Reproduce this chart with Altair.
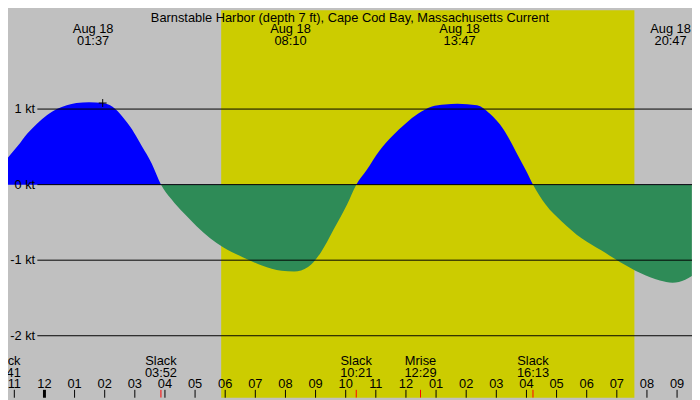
import altair as alt
import pandas as pd

# ---- data ----
title = "Barnstable Harbor (depth 7 ft), Cape Cod Bay, Massachusetts Current"

# hours relative to midnight Aug 18 (negative = Aug 17)
hours = [-1.21, -0.89, -0.56, -0.24, 0.09, 0.41, 0.74, 1.06, 1.48, 1.94,
         2.26, 2.59, 2.91, 3.23, 3.56, 3.87, 4.21, 4.63, 5.05, 5.50,
         5.93, 6.58, 7.22, 7.87, 8.29, 8.75, 9.17, 9.59, 10.05, 10.35,
         10.69, 11.12, 11.54, 11.99, 12.41, 12.84, 13.29, 13.71, 14.36, 14.78,
         15.24, 15.66, 15.98, 16.22, 16.63, 17.18, 17.83, 18.48, 19.13, 19.78,
         20.43, 20.85, 21.27, 21.49]
knots = [0.36, 0.51, 0.68, 0.81, 0.92, 1.00, 1.05, 1.08, 1.09, 1.08,
         1.03, 0.90, 0.73, 0.51, 0.28, 0.00, -0.19, -0.38, -0.55, -0.71,
         -0.83, -0.96, -1.07, -1.14, -1.15, -1.09, -0.90, -0.60, -0.26, 0.00,
         0.19, 0.45, 0.64, 0.81, 0.94, 1.03, 1.06, 1.07, 1.05, 0.94,
         0.73, 0.43, 0.19, 0.00, -0.26, -0.49, -0.71, -0.87, -1.03, -1.17,
         -1.27, -1.30, -1.26, -1.21]

top_dates = ["Aug 18", "Aug 18", "Aug 18", "Aug 18"]
top_times = ["01:37", "08:10", "13:47", "20:47"]

event_names = ["Slack", "Slack", "Slack", "Mrise", "Slack"]
event_times = ["22:41", "03:52", "10:21", "12:29", "16:13"]
event_day = [-1, 0, 0, 0, 0]

sunrise = "05:52"
sunset = "19:35"

transit_time = "01:56"
transit_value = 1.08

levels = [1, 0, -1, -2]
level_labels = ["1 kt", "0 kt", "-1 kt", "-2 kt"]

tick_hours = list(range(-1, 22))
tick_labels = ["11", "12", "01", "02", "03", "04", "05", "06", "07", "08", "09",
               "10", "11", "12", "01", "02", "03", "04", "05", "06", "07", "08", "09"]


def to_h(t, day=0):
    hh, mm = t.split(":")
    return int(hh) + int(mm) / 60 + 24 * day


cur = pd.DataFrame({"h": hours, "v": knots})
top = pd.DataFrame({"h": [to_h(t) for t in top_times], "d": top_dates, "t": top_times})
ev = pd.DataFrame({"h": [to_h(t, d) for t, d in zip(event_times, event_day)],
                   "n": event_names, "t": event_times})
day = pd.DataFrame({"a": [to_h(sunrise)], "b": [to_h(sunset)]})
lv = pd.DataFrame({"lv": levels, "lab": level_labels})
ticks = pd.DataFrame({"h": tick_hours, "lab": tick_labels})
plus = pd.DataFrame({"h": [to_h(transit_time)], "v": [transit_value]})
ttl = pd.DataFrame({"t": [title]})

W, H = 692, 392
FONT = "Liberation Sans"
FS = 13
BLUE = "#0000ff"
GREEN = "#2e8b57"

xs = alt.Scale(domain=[-1.2099, 21.4955], nice=False, zero=False)
ys = alt.Scale(domain=[-2.8205, 2.3077], nice=False, zero=False)


def X(f):
    return alt.X(f, type="quantitative", scale=xs, axis=None)


def Y(f):
    return alt.Y(f, type="quantitative", scale=ys, axis=None)


# zero line position inside the area's bounding box (top = max, bottom = min)
vmax, vmin = max(knots), min(knots)
zero_off = vmax / (vmax - vmin)
fill = alt.Gradient(
    gradient="linear", x1=0, x2=0, y1=0, y2=1,
    stops=[alt.GradientStop(color=BLUE, offset=0),
           alt.GradientStop(color=BLUE, offset=zero_off),
           alt.GradientStop(color=GREEN, offset=zero_off),
           alt.GradientStop(color=GREEN, offset=1)])

daylight = alt.Chart(day).mark_rect(color="#cccc00").encode(
    x=X("a"), x2="b", y=alt.value(0), y2=alt.value(H))

current = alt.Chart(cur).mark_area(
    color=fill, interpolate="monotone", clip=True).encode(
    x=X("h"), y=Y("v"), y2=alt.datum(0))

lines = alt.Chart(lv).mark_rule(color="black", strokeWidth=1).encode(
    x=alt.value(29.7), x2=alt.value(W), y=Y("lv"))

lvtext = alt.Chart(lv).mark_text(align="right", baseline="middle", font=FONT,
                                 fontSize=FS, color="black").encode(
    x=alt.value(27.5), y=Y("lv"), text="lab:N")

marker = alt.Chart(plus).mark_point(shape="M-1,0L1,0M0,-1L0,1", size=64,
                                    filled=False, color="black",
                                    strokeWidth=1, opacity=1).encode(
    x=X("h"), y=Y("v"))

title_t = alt.Chart(ttl).mark_text(align="center", baseline="alphabetic", font=FONT,
                                   fontSize=FS, color="black").encode(
    x=alt.value(W / 2), y=alt.value(12), text="t:N")

top1 = alt.Chart(top).mark_text(align="center", baseline="alphabetic", font=FONT,
                                fontSize=FS, color="black").encode(
    x=X("h"), y=alt.value(23.5), text="d:N")
top2 = alt.Chart(top).mark_text(align="center", baseline="alphabetic", font=FONT,
                                fontSize=FS, color="black").encode(
    x=X("h"), y=alt.value(35.3), text="t:N")

ev1 = alt.Chart(ev).mark_text(align="center", baseline="alphabetic", font=FONT,
                              fontSize=FS, color="black").encode(
    x=X("h"), y=alt.value(358.7), text="n:N")
ev2 = alt.Chart(ev).mark_text(align="center", baseline="alphabetic", font=FONT,
                              fontSize=FS, color="black").encode(
    x=X("h"), y=alt.value(370.7), text="t:N")

tickmarks = alt.Chart(ticks).mark_rule(color="black").encode(
    x=X("h"), y=alt.value(384), y2=alt.value(H),
    strokeWidth=alt.condition("datum.h == 0", alt.value(3), alt.value(1)))

ticktext = alt.Chart(ticks).mark_text(align="center", baseline="alphabetic", font=FONT,
                                      fontSize=FS, color="black").encode(
    x=X("h"), y=alt.value(382.2), text="lab:N")

redticks = alt.Chart(ev).mark_rule(color="#ff0000", strokeWidth=1, clip=True).encode(
    x=X("h"), y=alt.value(384), y2=alt.value(H))

chart = alt.layer(
    daylight, current, lines, lvtext, marker, title_t, top1, top2,
    ev1, ev2, tickmarks, redticks, ticktext
).properties(
    width=W, height=H, background="#c0c0c0", padding=0,
    autosize=alt.AutoSizeParams(type="none")
).configure_view(stroke=None)

chart.save("out.html", embed_options={"renderer": "svg", "actions": False})
